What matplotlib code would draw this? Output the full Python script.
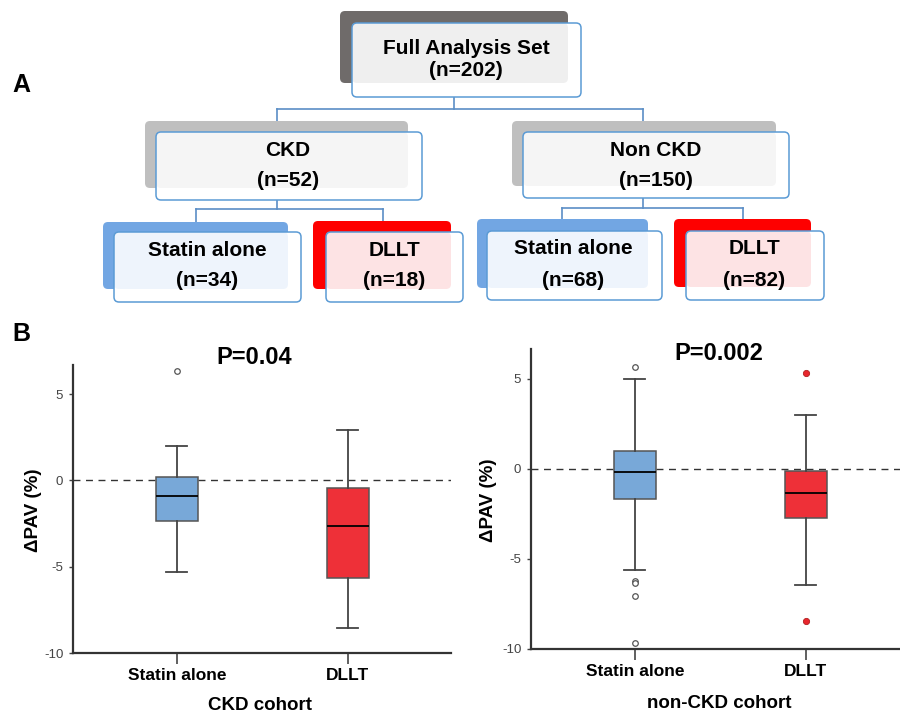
import matplotlib
matplotlib.use("Agg")
import matplotlib.pyplot as plt
from matplotlib.patches import FancyBboxPatch

plt.rcParams['font.family'] = ['Liberation Sans', 'DejaVu Sans']

# ---- data ----
tree_labels = ["Full Analysis Set", "CKD", "Non CKD",
               "Statin alone", "DLLT", "Statin alone", "DLLT"]
tree_counts = [202, 52, 150, 34, 18, 68, 82]

groups = ["Statin alone", "DLLT"]
cohorts = ["CKD cohort", "non-CKD cohort"]
p_values = ["P=0.04", "P=0.002"]

# whislo, q1, median, q3, whishi
ckd_statin = [-5.29, -2.36, -0.91, 0.21, 1.99]
ckd_dllt = [-8.55, -5.64, -2.66, -0.46, 2.93]
ckd_statin_out = [6.33]
ckd_dllt_out = []

non_statin = [-5.61, -1.67, -0.17, 1.00, 4.98]
non_dllt = [-6.46, -2.76, -1.37, -0.11, 2.96]
non_statin_out = [5.65, -6.24, -6.37, -7.07, -9.70]
non_dllt_out = [5.30, -8.48]

fig = plt.figure(figsize=(9, 7.13), dpi=100)

# ---- panel A: flow chart drawn in pixel coords ----
ov = fig.add_axes([0, 0, 1, 1], zorder=0)
ov.set_xlim(0, 900)
ov.set_ylim(713, 0)
ov.axis('off')

# (back box, front box, back colour, tint)
boxes = [
    ((340, 11, 568, 83), (352, 23, 581, 97), '#6f6b6a', '#efefef'),
    ((145, 121, 408, 188), (156, 132, 422, 200), '#bfbfbf', '#f5f5f5'),
    ((512, 121, 776, 186), (523, 132, 789, 198), '#bfbfbf', '#f5f5f5'),
    ((103, 222, 288, 289), (114, 232, 301, 302), '#72a6e3', '#eef4fc'),
    ((313, 221, 451, 289), (326, 232, 463, 302), '#fe0000', '#fde3e4'),
    ((477, 219, 648, 288), (487, 231, 662, 300), '#72a6e3', '#eef4fc'),
    ((674, 219, 811, 287), (686, 231, 824, 300), '#fe0000', '#fde3e4'),
]
edge = '#5b9bd5'

def rbox(x0, y0, x1, y1, **kw):
    ov.add_patch(FancyBboxPatch((x0, y0), x1 - x0, y1 - y0,
                                boxstyle="round,pad=0,rounding_size=5", **kw))

for i, (bk, fr, bc, tint) in enumerate(boxes):
    rbox(*bk, facecolor=bc, edgecolor='none', zorder=1)
    rbox(*fr, facecolor='white', edgecolor='none', zorder=2)
    rbox(fr[0], fr[1], bk[2], bk[3], facecolor=tint, edgecolor='none', zorder=3)
    rbox(*fr, facecolor='none', edgecolor=edge, lw=1.1, zorder=4)
    if i == 0:
        ov.text(466, 48, tree_labels[i], ha='center', va='center',
                fontsize=15, fontweight='bold', zorder=5)
        ov.text(466, 71, "(n=%d)" % tree_counts[i], ha='center', va='center',
                fontsize=15, fontweight='bold', zorder=5)
    else:
        cx = (fr[0] + bk[2]) / 2 + 6
        ty = fr[1] + 18
        ov.text(cx, ty, tree_labels[i], ha='center', va='center',
                fontsize=15, fontweight='bold', zorder=5)
        ov.text(cx, ty + 31, "(n=%d)" % tree_counts[i], ha='center', va='center',
                fontsize=15, fontweight='bold', zorder=5)

lc = '#5b8ec6'
def conn(xs, ytop, ymid, ybot, xtop):
    ov.plot([xtop, xtop], [ytop, ymid], color=lc, lw=1.2, zorder=0.5)
    ov.plot([xs[0], xs[1]], [ymid, ymid], color=lc, lw=1.2, zorder=0.5)
    for x in xs:
        ov.plot([x, x], [ymid, ybot], color=lc, lw=1.2, zorder=0.5)

conn((277, 643), 97, 109, 121, 454)
conn((196, 383), 200, 209, 222, 277)
conn((562, 743), 198, 208, 219, 643)

fig.text(12 / 900, 1 - 85 / 713, "A", fontsize=18, fontweight='bold', va='center')
fig.text(12 / 900, 1 - 334 / 713, "B", fontsize=18, fontweight='bold', va='center')

# ---- panel B: box plots ----
def draw(ax, stats, outs, ylim, xlim):
    cols = ['#78a8d8', '#ee3038']
    for k in range(2):
        st = dict(whislo=stats[k][0], q1=stats[k][1], med=stats[k][2],
                  q3=stats[k][3], whishi=stats[k][4], fliers=outs[k])
        if k == 0:
            fp = dict(marker='o', markersize=4, markerfacecolor='white',
                      markeredgecolor='#555555', markeredgewidth=0.9, linestyle='none')
        else:
            fp = dict(marker='o', markersize=4.5, markerfacecolor='#e8262d',
                      markeredgecolor='#b02020', markeredgewidth=0.6, linestyle='none')
        ax.bxp([st], positions=[k + 1], widths=0.245, patch_artist=True,
               boxprops=dict(facecolor=cols[k], edgecolor='#555555', lw=1.1),
               medianprops=dict(color='black', lw=1.3),
               whiskerprops=dict(color='#444444', lw=1.3),
               capprops=dict(color='#444444', lw=1.3),
               flierprops=fp, zorder=3)
    ax.axhline(0, color='#333333', lw=1, ls=(0, (5, 4)), zorder=1)
    ax.set_xlim(*xlim)
    ax.set_ylim(*ylim)
    ax.set_xticks([1, 2])
    ax.set_xticklabels(groups, fontsize=12.5, fontweight='bold')
    ax.set_yticks([5, 0, -5, -10])
    ax.set_yticklabels(['5', '0', '-5', '-10'], fontsize=9.5, color='#444444')
    ax.tick_params(axis='x', length=8, width=1.2, color='#444444', pad=3)
    ax.tick_params(axis='y', length=3, width=1, color='#444444', pad=4)
    for s in ['top', 'right']:
        ax.spines[s].set_visible(False)
    for s in ['left', 'bottom']:
        ax.spines[s].set_color('#333333')
        ax.spines[s].set_linewidth(1.6)
    ax.patch.set_alpha(0)

ax1 = fig.add_axes([73 / 900, 60 / 713, 378 / 900, 288 / 713], zorder=2)
draw(ax1, [ckd_statin, ckd_dllt], [ckd_statin_out, ckd_dllt_out],
     (-10, 6.68), (0.392, 2.603))
ax2 = fig.add_axes([531 / 900, 64.3 / 713, 369 / 900, 299.4 / 713], zorder=2)
draw(ax2, [non_statin, non_dllt], [non_statin_out, non_dllt_out],
     (-10, 6.63), (0.392, 2.55))

fig.text(254 / 900, 1 - 357 / 713, p_values[0], fontsize=17, fontweight='bold',
         ha='center', va='center')
fig.text(719 / 900, 1 - 353 / 713, p_values[1], fontsize=17, fontweight='bold',
         ha='center', va='center')
fig.text(260 / 900, 1 - 705 / 713, cohorts[0], fontsize=13.5, fontweight='bold',
         ha='center', va='center')
fig.text(719 / 900, 1 - 703 / 713, cohorts[1], fontsize=13.5, fontweight='bold',
         ha='center', va='center')
fig.text(33 / 900, 1 - 510 / 713, "ΔPAV (%)", fontsize=13.5, fontweight='bold',
         ha='center', va='center', rotation=90)
fig.text(488 / 900, 1 - 500 / 713, "ΔPAV (%)", fontsize=13.5, fontweight='bold',
         ha='center', va='center', rotation=90)

fig.savefig("out.png", dpi=100)
